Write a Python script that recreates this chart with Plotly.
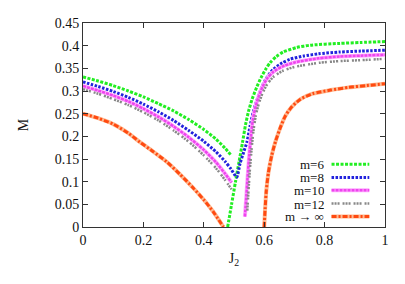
import plotly.graph_objects as go

# ---- data ----
# m=6
j_m6_a = [0, 0.05, 0.1, 0.15, 0.2, 0.25, 0.3, 0.35, 0.4, 0.44, 0.47, 0.492]
m_m6_a = [0.331, 0.322, 0.312, 0.300, 0.287, 0.272, 0.256, 0.237, 0.215, 0.194, 0.174, 0.157]
j_m6_b = [0.479, 0.492, 0.505, 0.517, 0.528, 0.538, 0.548, 0.56, 0.575, 0.59, 0.605, 0.619, 0.64, 0.663, 0.708, 0.752, 0.85, 0.92, 1.0]
m_m6_b = [0.0, 0.05, 0.10, 0.145, 0.186, 0.225, 0.255, 0.282, 0.308, 0.330, 0.348, 0.362, 0.376, 0.386, 0.396, 0.401, 0.405, 0.407, 0.409]
# m=8
j_m8 = [0, 0.05, 0.1, 0.15, 0.2, 0.25, 0.3, 0.35, 0.4, 0.44, 0.47, 0.49, 0.509,
        0.52, 0.532, 0.543, 0.553, 0.564, 0.575, 0.59, 0.605, 0.63, 0.66, 0.685, 0.73, 0.78, 0.85, 0.92, 1.0]
m_m8 = [0.320, 0.310, 0.299, 0.286, 0.271, 0.254, 0.235, 0.213, 0.189, 0.166, 0.145, 0.128, 0.110,
        0.140, 0.165, 0.188, 0.222, 0.255, 0.278, 0.305, 0.326, 0.348, 0.362, 0.370, 0.377, 0.382, 0.386, 0.388, 0.390]
# m=10
j_m10_a = [0, 0.05, 0.1, 0.15, 0.2, 0.25, 0.3, 0.35, 0.4, 0.44, 0.47, 0.492]
m_m10_a = [0.311, 0.301, 0.290, 0.277, 0.261, 0.243, 0.222, 0.198, 0.170, 0.143, 0.118, 0.098]
j_m10_b = [0.536, 0.540, 0.545, 0.550, 0.556, 0.562, 0.57, 0.58, 0.595, 0.61, 0.63, 0.66, 0.70, 0.78, 0.85, 0.92, 1.0]
m_m10_b = [0.023, 0.06, 0.11, 0.155, 0.20, 0.235, 0.262, 0.285, 0.310, 0.328, 0.342, 0.354, 0.363, 0.372, 0.376, 0.378, 0.380]
# m=12
j_m12_a = [0, 0.05, 0.1, 0.15, 0.2, 0.25, 0.3, 0.35, 0.4, 0.44, 0.47, 0.492]
m_m12_a = [0.304, 0.294, 0.282, 0.269, 0.253, 0.235, 0.213, 0.188, 0.158, 0.130, 0.104, 0.083]
j_m12_b = [0.544, 0.548, 0.553, 0.558, 0.564, 0.572, 0.582, 0.595, 0.61, 0.63, 0.66, 0.70, 0.78, 0.85, 0.92, 1.0]
m_m12_b = [0.036, 0.08, 0.13, 0.17, 0.21, 0.245, 0.272, 0.296, 0.315, 0.331, 0.344, 0.353, 0.362, 0.366, 0.368, 0.371]
# m -> infinity
j_inf_a = [0, 0.05, 0.1, 0.15, 0.189, 0.233, 0.277, 0.32, 0.365, 0.40, 0.432, 0.465]
m_inf_a = [0.250, 0.240, 0.227, 0.207, 0.187, 0.166, 0.144, 0.117, 0.086, 0.060, 0.033, 0.0]
j_inf_b = [0.600, 0.603, 0.607, 0.614, 0.625, 0.638, 0.655, 0.67, 0.69, 0.72, 0.76, 0.82, 0.88, 0.94, 1.0]
m_inf_b = [0.0, 0.04, 0.08, 0.12, 0.158, 0.19, 0.222, 0.245, 0.264, 0.282, 0.294, 0.302, 0.308, 0.312, 0.316]

labels = ["m=6", "m=8", "m=10", "m=12", "m \u2192 \u221e"]
xticks = [0, 0.2, 0.4, 0.6, 0.8, 1]
xtick_text = ["0", "0.2", "0.4", "0.6", "0.8", "1"]
yticks = [0, 0.05, 0.1, 0.15, 0.2, 0.25, 0.3, 0.35, 0.4, 0.45]
ytick_text = ["0", "0.05", "0.1", "0.15", "0.2", "0.25", "0.3", "0.35", "0.4", "0.45"]

# ---- styles ----
styles = [
    [dict(color="#22ee22", width=3, dash="3px,1.5px")],
    [dict(color="#2222dd", width=3, dash="2.5px,1.5px")],
    [dict(color="#ffaaff", width=4, dash="solid"), dict(color="#ee44ee", width=2.5, dash="3px,1px")],
    [dict(color="#888888", width=2.5, dash="2px,1px,2px,1px,2px,3px")],
    [dict(color="#ffb890", width=4, dash="solid"), dict(color="#ff4a10", width=3, dash="5px,2px,2px,2px")],
]
series = [
    [(j_m6_a, m_m6_a), (j_m6_b, m_m6_b)],
    [(j_m8, m_m8)],
    [(j_m10_a, m_m10_a), (j_m10_b, m_m10_b)],
    [(j_m12_a, m_m12_a), (j_m12_b, m_m12_b)],
    [(j_inf_a, m_inf_a), (j_inf_b, m_inf_b)],
]

fig = go.Figure()
for name, branches, sty in zip(labels, series, styles):
    for (xs, ys) in branches:
        for s in sty:
            fig.add_trace(go.Scatter(x=xs, y=ys, mode="lines", name=name,
                                     line=dict(color=s["color"], width=s["width"], dash=s["dash"], shape="spline", smoothing=0.6),
                                     showlegend=False, hoverinfo="skip"))

font = dict(family="Liberation Serif", size=14, color="#111111")
legend_font = dict(family="Liberation Serif", size=13, color="#111111")

# custom legend (text right-aligned, sample on the right)
row_y = [0.307, 0.243, 0.180, 0.115, 0.052]
for lab, sty, yy in zip(labels, styles, row_y):
    fig.add_annotation(x=0.801, y=yy, xref="paper", yref="paper", text=lab, showarrow=False,
                       xanchor="right", yanchor="middle", font=legend_font, height=12, borderpad=0)
    for s in sty:
        fig.add_shape(type="line", xref="paper", yref="paper", x0=0.823, x1=0.948, y0=yy, y1=yy,
                      line=dict(color=s["color"], width=s["width"], dash=s["dash"]))

axis_common = dict(showline=True, linecolor="#333333", linewidth=1, mirror="allticks", ticks="inside",
                   ticklen=5, tickcolor="#333333", showgrid=False, zeroline=False, tickfont=font)
fig.update_xaxes(range=[0, 1], tickvals=xticks, ticktext=xtick_text,
                 title=dict(text="J<sub>2</sub>", font=font, standoff=6), **axis_common)
fig.update_yaxes(range=[0, 0.45], tickvals=yticks, ticktext=ytick_text,
                 title=dict(text="M", font=font, standoff=22), **axis_common)

fig.update_layout(width=405, height=284, margin=dict(l=75, r=28, t=8, b=65),
                  plot_bgcolor="white", paper_bgcolor="white", showlegend=False, font=font)

fig.write_html("out.html")
